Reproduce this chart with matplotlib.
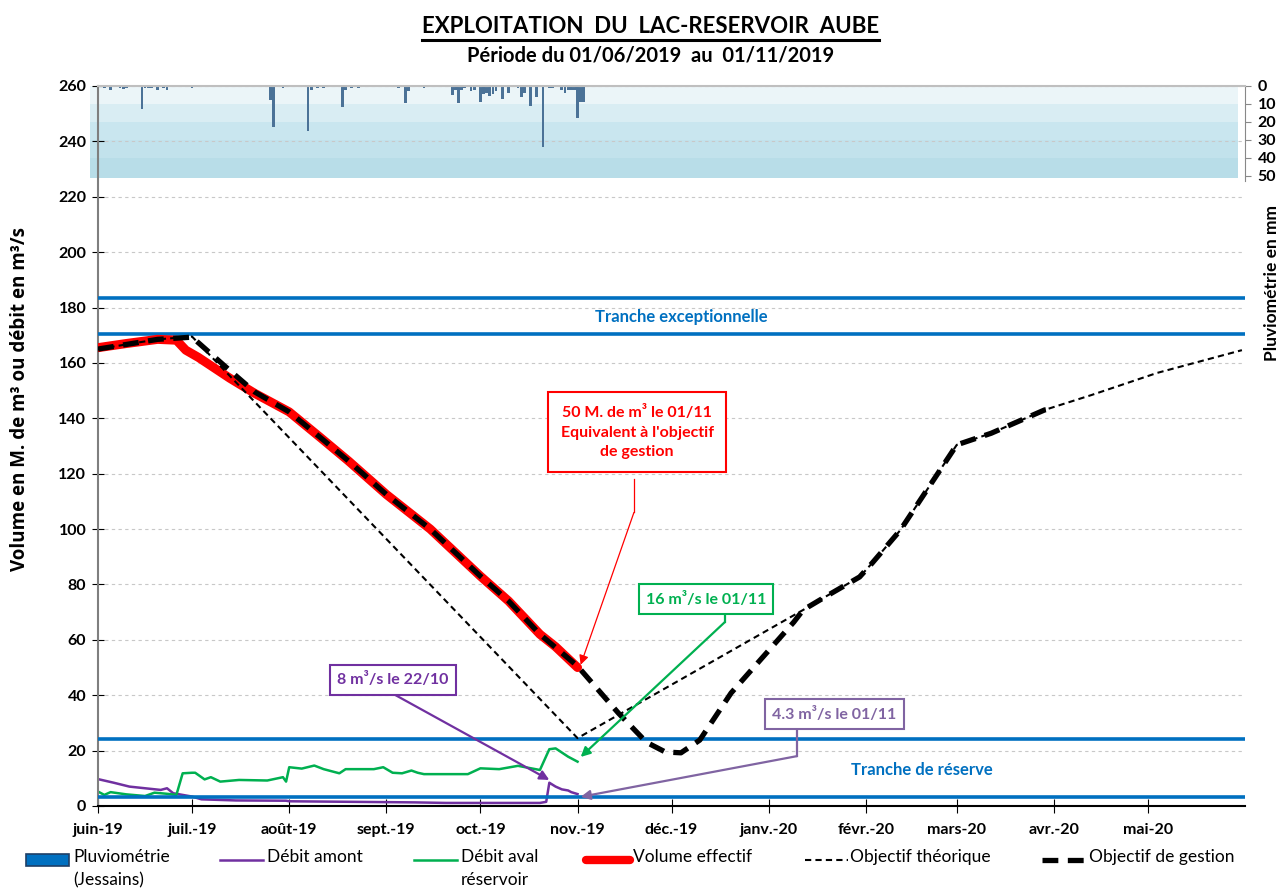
import matplotlib
matplotlib.use('Agg')
import matplotlib.pyplot as plt
import pandas as pd
from matplotlib.lines import Line2D
from matplotlib.patches import Rectangle

plt.rcParams['font.family'] = ['Lato', 'DejaVu Sans']

# ---- data ----
month_ticks = pd.date_range('2019-06-01', '2020-05-01', freq='MS')
month_labels = ['juin-19', 'juil.-19', 'août-19', 'sept.-19', 'oct.-19', 'nov.-19',
                'déc.-19', 'janv.-20', 'févr.-20', 'mars-20', 'avr.-20', 'mai-20']

# pluviometrie Jessains (mm / jour)
rain_dates = ['2019-06-03', '2019-06-05', '2019-06-08', '2019-06-09', '2019-06-10', '2019-06-11',
              '2019-06-12', '2019-06-13', '2019-06-15', '2019-06-16', '2019-06-17', '2019-06-18',
              '2019-06-20', '2019-06-22', '2019-06-23', '2019-07-01',
              '2019-07-26', '2019-07-27', '2019-07-30', '2019-08-07', '2019-08-08', '2019-08-10',
              '2019-08-12', '2019-08-18', '2019-08-19', '2019-08-21', '2019-08-23',
              '2019-09-05', '2019-09-07', '2019-09-08', '2019-09-13', '2019-09-22', '2019-09-23',
              '2019-09-24', '2019-09-25', '2019-09-26', '2019-09-28', '2019-09-29', '2019-10-01',
              '2019-10-02', '2019-10-03', '2019-10-04', '2019-10-05', '2019-10-06', '2019-10-08',
              '2019-10-10', '2019-10-13', '2019-10-14', '2019-10-15', '2019-10-17', '2019-10-19',
              '2019-10-21', '2019-10-23', '2019-10-24', '2019-10-27', '2019-10-28', '2019-10-29',
              '2019-10-30', '2019-10-31', '2019-11-01', '2019-11-02', '2019-11-03']
rain_mm = [1, 2, 1, 1.5, 1, 0.5,
           0.5, 0.5, 13, 1, 1, 1,
           2, 1, 2, 1,
           7.8, 23, 1.3, 24.8, 2, 1,
           1, 11.5, 2, 1, 1,
           1.3, 9.3, 3, 1, 5, 2,
           9.3, 2, 1, 3, 2, 8.7,
           4.4, 4, 5.4, 4.4, 3, 7.4,
           4, 1.3, 6, 3.7, 11, 6,
           33.7, 1.3, 1, 2, 3.7, 2.2,
           2.2, 2.2, 18, 8.7, 8.7]

# debit amont (m3/s)
amont_dates = ['2019-06-01', '2019-06-06', '2019-06-11', '2019-06-16', '2019-06-21', '2019-06-23',
               '2019-06-25', '2019-06-28', '2019-07-01', '2019-07-04', '2019-07-15', '2019-07-31',
               '2019-08-01', '2019-09-10', '2019-09-20', '2019-10-20', '2019-10-22', '2019-10-23',
               '2019-10-25', '2019-10-27', '2019-10-29', '2019-10-30', '2019-11-01']
amont = [9.7, 8.4, 7, 6.4, 5.8, 6.4,
         4.6, 4, 3.4, 2.4, 2.0, 1.9,
         1.7, 1.3, 1.1, 1.1, 1.5, 8.4,
         7, 6, 5.6, 5, 4.3]

# debit aval reservoir (m3/s)
aval_dates = ['2019-06-01', '2019-06-03', '2019-06-05', '2019-06-10', '2019-06-16', '2019-06-19',
              '2019-06-23', '2019-06-26', '2019-06-28', '2019-07-01', '2019-07-02', '2019-07-05',
              '2019-07-07', '2019-07-10', '2019-07-16', '2019-07-25', '2019-07-30', '2019-07-31',
              '2019-08-01', '2019-08-05', '2019-08-09', '2019-08-12', '2019-08-17', '2019-08-19',
              '2019-08-28', '2019-08-31', '2019-09-03', '2019-09-06', '2019-09-09', '2019-09-11',
              '2019-09-13', '2019-09-27', '2019-10-01', '2019-10-07', '2019-10-13', '2019-10-20',
              '2019-10-23', '2019-10-25', '2019-10-29', '2019-11-01']
aval = [5.2, 4.0, 5.0, 4.2, 3.6, 4.8,
        4.4, 4.0, 11.8, 12, 12, 9.6,
        10.4, 8.8, 9.4, 9.2, 10.4, 8.8,
        14, 13.5, 14.6, 13.3, 11.8, 13.3,
        13.3, 14, 12, 11.8, 12.8, 12,
        11.5, 11.5, 13.6, 13.3, 14.5, 13,
        20.5, 20.8, 17.8, 16]

# volume effectif (M. m3)
vol_dates = ['2019-06-01', '2019-06-10', '2019-06-20', '2019-06-26', '2019-06-29', '2019-07-03',
             '2019-07-13', '2019-07-21', '2019-08-01', '2019-08-11', '2019-08-20', '2019-09-01',
             '2019-09-15', '2019-10-01', '2019-10-10', '2019-10-20', '2019-10-25', '2019-11-01']
vol = [165.5, 167, 168.5, 168.2, 164.6, 162,
       154.5, 149, 142.3, 133, 124.5, 112.5,
       100, 83, 74, 62, 57.5, 50]

# objectif de gestion
gest_dates = ['2019-06-01', '2019-06-20', '2019-07-01', '2019-07-13', '2019-07-21', '2019-08-01',
              '2019-08-11', '2019-08-20', '2019-09-01', '2019-09-15', '2019-10-01', '2019-10-10',
              '2019-10-20', '2019-11-01', '2019-11-14', '2019-11-23', '2019-11-29', '2019-12-04',
              '2019-12-10', '2019-12-20', '2020-01-09', '2020-01-12', '2020-01-19', '2020-01-30',
              '2020-02-03', '2020-02-12', '2020-03-01', '2020-03-12', '2020-03-29', '2020-04-01']
gest = [165, 168.5, 169.3, 157.3, 149.5, 142.3,
        133, 124.5, 112.5, 100, 83, 74,
        62, 50.5, 33.6, 23, 19.5, 19.2,
        23.8, 40.8, 66.4, 70.8, 75.5, 82.7,
        87.7, 99.6, 130.4, 134.6, 143, 143.6]

# objectif theorique
theo_dates = ['2019-06-01', '2019-06-20', '2019-07-01', '2019-11-01', '2020-01-12', '2020-01-19',
              '2020-01-30', '2020-02-03', '2020-02-12', '2020-03-01', '2020-03-12', '2020-03-29',
              '2020-04-13', '2020-05-04', '2020-05-31']
theo = [165, 168.5, 169.5, 24.5, 70.8, 75.5,
        82.7, 87.7, 99.6, 130.4, 134.6, 143,
        148.4, 156.4, 164.6]

tranches = [183.5, 170.4, 24.2, 3.2]

# ---- figure ----
fig = plt.figure(figsize=(12.8, 8.9), dpi=100)
ax = fig.add_axes([0.0766, 0.0944, 0.8961, 0.809])
ax2 = ax.twinx()
ax.set_zorder(ax2.get_zorder() + 1)
ax.patch.set_visible(False)

# rain axis, reversed
band_cols = ['#ebf5f8', '#d9edf3', '#c9e6ef', '#c2e2ec', '#b8dde8']
for i, c in enumerate(band_cols):
    ax2.axhspan(i * 10, i * 10 + 10 + (1 if i == 4 else 0), xmin=-0.007, xmax=0.994, color=c,
                lw=0, zorder=0, clip_on=False)
ax2.bar(pd.to_datetime(rain_dates), rain_mm, width=0.9, color='#4b7297', zorder=2)
ax2.set_ylim(400, 0)
ax2.set_yticks(range(0, 51, 10))
ax2.tick_params(axis='y', direction='out', length=4, color='#888888', labelsize=11.5, pad=5)
for lab in ax2.get_yticklabels():
    lab.set_fontweight('bold')
ax2.spines['right'].set_bounds(0, 53)
ax2.spines['right'].set_color('#888888')
for s in ['left', 'top', 'bottom']:
    ax2.spines[s].set_visible(False)

# main series
for h in tranches:
    ax.axhline(h, color='#0070C0', lw=2.6, zorder=3)
ax.plot(pd.to_datetime(amont_dates), amont, color='#7030A0', lw=1.8, zorder=2)
ax.plot(pd.to_datetime(aval_dates), aval, color='#00B050', lw=1.8, zorder=2)
ax.plot(pd.to_datetime(vol_dates), vol, color='#FF0000', lw=6.5, solid_capstyle='round', zorder=4)
ax.plot(pd.to_datetime(theo_dates), theo, color='black', lw=1.5, dashes=(3, 2), zorder=5)
ax.plot(pd.to_datetime(gest_dates), gest, color='black', lw=3.8, dashes=(3, 1.8), zorder=6)

ax.set_xlim(pd.Timestamp('2019-06-01'), pd.Timestamp('2020-06-01'))
ax.set_ylim(0, 260)
ax.set_yticks(range(0, 261, 20))
ax.set_xticks(month_ticks)
ax.set_xticklabels(month_labels)
ax.yaxis.grid(True, linestyle=(0, (3, 3)), color='#c8c8c8', lw=0.8)
ax.tick_params(axis='y', direction='inout', length=9, labelsize=11.5, pad=4)
ax.tick_params(axis='x', direction='inout', length=10, labelsize=11.5, pad=7)
for lab in ax.get_xticklabels() + ax.get_yticklabels():
    lab.set_fontweight('bold')
ax.spines['left'].set_color('#7f7f7f')
ax.spines['left'].set_linewidth(1.5)
ax.spines['bottom'].set_linewidth(1.5)
ax.spines['right'].set_visible(False)
ax.spines['top'].set_color('#bfbfbf')
ax.spines['top'].set_linewidth(1.5)

# tranche labels
ax.text(pd.Timestamp('2019-12-04'), 176.5, 'Tranche exceptionnelle', color='#0070C0',
        fontsize=12, fontweight='bold', ha='center', va='center')
ax.text(pd.Timestamp('2020-02-19'), 13, 'Tranche de réserve', color='#0070C0',
        fontsize=12, fontweight='bold', ha='center', va='center')

# annotations
def callout(txt, center, col, start, elbow, tip, lw=1.0, pad=0.5):
    ax.text(pd.Timestamp(center[0]), center[1], txt, color=col, fontsize=11.5, fontweight='bold',
            ha='center', va='center', linespacing=1.5, zorder=10,
            bbox=dict(boxstyle='square,pad=%s' % pad, fc='white', ec=col, lw=1.5))
    pts = [start] + ([elbow] if elbow else [])
    xs = [pd.Timestamp(p[0]) for p in pts]
    ys = [p[1] for p in pts]
    ax.plot(xs, ys, color=col, lw=lw, zorder=9)
    ax.annotate('', xy=(pd.Timestamp(tip[0]), tip[1]), xytext=(xs[-1], ys[-1]), zorder=9,
                arrowprops=dict(arrowstyle='-|>', color=col, lw=lw, mutation_scale=14,
                                shrinkA=0, shrinkB=0))

callout("50 M. de m³ le 01/11\nEquivalent à l'objectif\nde gestion", ('2019-11-20', 135), '#FF0000',
        ('2019-11-19', 118), ('2019-11-19', 106), ('2019-11-02', 51), lw=0.9, pad=0.8)
callout('16 m³/s le 01/11', ('2019-12-12', 74.7), '#00B050',
        ('2019-12-18', 70), ('2019-12-18', 66.4), ('2019-11-02', 17.7), lw=1.6, pad=0.45)
callout('8 m³/s le 22/10', ('2019-09-03', 45.5), '#7030A0',
        ('2019-09-03', 40.6), None, ('2019-10-23', 9.4), lw=1.6, pad=0.45)
callout('4.3 m³/s le 01/11', ('2020-01-22', 33.2), '#8064A2',
        ('2020-01-10', 28.5), ('2020-01-10', 18), ('2019-11-02', 3.3), lw=1.6, pad=0.45)

# titles and axis labels
t1 = fig.text(0.508, 0.970, 'EXPLOITATION  DU  LAC-RESERVOIR  AUBE', ha='center', va='center',
              fontsize=16, fontweight='bold')
fig.text(0.508, 0.938, 'Période du 01/06/2019  au  01/11/2019', ha='center', va='center',
         fontsize=14.5, fontweight='bold')
fig.text(0.0156, 0.552, 'Volume en M. de m³ ou débit en m³/s', rotation=90, ha='center', va='center',
         fontsize=13.5, fontweight='bold', family=['Open Sans', 'DejaVu Sans'])
fig.text(0.9937, 0.682, 'Pluviométrie en mm', rotation=90, ha='center', va='center',
         fontsize=12.5, fontweight='bold')

fig.canvas.draw()
bb = t1.get_window_extent(fig.canvas.get_renderer())
fig.add_artist(Line2D([bb.x0 / 1280, bb.x1 / 1280], [(bb.y0 - 3) / 890] * 2, color='black', lw=2.2))

# legend (bottom)
ly = 1 - 860 / 890
fig.add_artist(Rectangle((26 / 1280, ly - 6 / 890), 43 / 1280, 12 / 890, fc='#0070C0', ec='#1f3f66', lw=1.2))
leg = [(220, 263, dict(color='#7030A0', lw=1.8)),
       (414, 457, dict(color='#00B050', lw=1.8)),
       (586, 630, dict(color='#FF0000', lw=6, solid_capstyle='round')),
       (805, 848, dict(color='black', lw=1.5, dashes=(3, 2))),
       (1042, 1087, dict(color='black', lw=3.8, dashes=(3, 1.8)))]
for x0, x1, kw in leg:
    fig.add_artist(Line2D([x0 / 1280, x1 / 1280], [ly, ly], **kw))
leg_txt = [(73, 'Pluviométrie\n(Jessains)'), (267, 'Débit amont'), (461, 'Débit aval\nréservoir'),
           (633, 'Volume effectif'), (850, 'Objectif théorique'), (1089, 'Objectif de gestion')]
for x, s in leg_txt:
    fig.text(x / 1280, ly + 11 / 890, s, ha='left', va='top', fontsize=12.5, linespacing=1.55)

fig.savefig('out.png', dpi=100)
